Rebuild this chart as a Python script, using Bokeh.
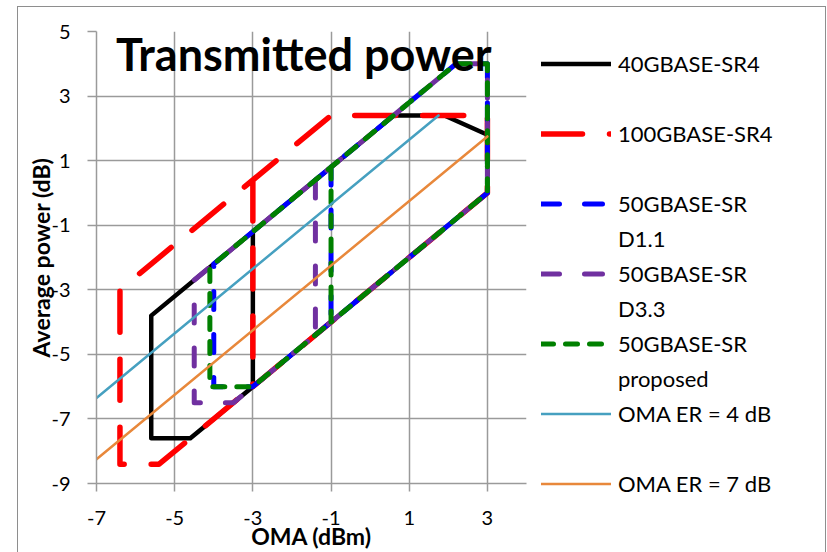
from bokeh.plotting import figure
from bokeh.models import (Legend, LegendItem, Label, FixedTicker, Range1d,
                          PrintfTickFormatter)
from bokeh.embed import file_html
from bokeh.resources import INLINE

# ---- data ----
x_ticks = [-7, -5, -3, -1, 1, 3]
y_ticks = [-9, -7, -5, -3, -1, 1, 3, 5]

sr4_40_oma = [-3, -3, 3, 3, 1.9, 0.6, -5.6, -5.6, -4.6, -3]
sr4_40_avg = [-1.2, -6, 0, 1.8, 2.4, 2.4, -3.8, -7.6, -7.6, -6]

sr4_100_oma = [-3, -3, 3, 3, -1, -6.4, -6.4, -5.4, -3]
sr4_100_avg = [0.4, -6, 0, 2.4, 2.4, -3.0, -8.4, -8.4, -6]

sr_d11_oma = [-1, -1, 3, 3, 2.2, -4, -4, -3, -1]
sr_d11_avg = [0.8, -4, 0, 4, 4, -2.2, -6, -6, -4]

sr_d33_oma = [-1.4, -1.4, 3, 3, 2.2, -4.5, -4.5, -3.5, -1.4]
sr_d33_avg = [0.4, -4.4, 0, 4, 4, -2.7, -6.5, -6.5, -4.4]

sr_prop_oma = [-1, -1, 3, 3, 2.2, -4.1, -4.1, -3, -1]
sr_prop_avg = [0.8, -4, 0, 4, 4, -2.3, -6, -6, -4]

er4_oma = [-7, 1.75]
er4_avg = [-6.35, 2.4]

er7_oma = [-7, 3]
er7_avg = [-8.25, 1.75]

GRID = "#9a9a9a"
FONT = "Lato"
BORDER = "#8e8e8e"

# chart-area border drawn as CSS background lines behind a transparent canvas margin
frame_styles = {
    "background-color": "white",
    "background-image": (f"linear-gradient({BORDER},{BORDER}), "
                         f"linear-gradient({BORDER},{BORDER}), "
                         f"linear-gradient({BORDER},{BORDER})"),
    "background-size": "1px 560px, 809px 1px, 1px 560px",
    "background-position": "17px 6px, 17px 6px, 825px 6px",
    "background-repeat": "no-repeat",
}

p = figure(frame_width=430, frame_height=452, output_backend="svg",
           toolbar_location=None,
           x_range=Range1d(-7, 4), y_range=Range1d(-9, 5),
           min_border_left=96, min_border_right=301, min_border_top=31,
           min_border_bottom=69, styles=frame_styles)
p.outline_line_color = None
p.background_fill_color = "white"
p.border_fill_alpha = 0

p.xaxis.ticker = FixedTicker(ticks=x_ticks)
p.yaxis.ticker = FixedTicker(ticks=y_ticks)
for g in (p.xgrid, p.ygrid):
    g.grid_line_color = GRID
    g.grid_line_width = 1.5

for ax in (p.xaxis, p.yaxis):
    ax.formatter = PrintfTickFormatter(format="%d")
    ax.axis_line_color = GRID
    ax.axis_line_width = 1.5
    ax.major_tick_line_color = GRID
    ax.major_tick_line_width = 1.5
    ax.major_tick_in = 0
    ax.minor_tick_out = 0
    ax.minor_tick_in = 0
    ax.major_label_text_font = FONT
    ax.major_label_text_font_size = "20px"
    ax.major_label_text_color = "black"
    ax.axis_label_text_font = FONT
    ax.axis_label_text_font_style = "bold"
    ax.axis_label_text_font_size = "23px"
    ax.axis_label_text_color = "black"

p.xaxis.major_tick_out = 8
p.xaxis.major_label_standoff = 19
p.xaxis.axis_label = "OMA (dBm)"
p.xaxis.axis_label_standoff = -6

p.yaxis.major_tick_out = 9
p.yaxis.major_label_standoff = 17
p.yaxis.axis_label = "Average power (dB)"
p.yaxis.axis_label_standoff = -7

common = dict(line_join="round", line_cap="round")
r_black = p.line(sr4_40_oma, sr4_40_avg, line_color="black", line_width=4.5, **common)
r_red = p.line(sr4_100_oma, sr4_100_avg, line_color="#ff0000", line_width=5.5,
               line_dash="41 27", **common)
r_blue = p.line(sr_d11_oma, sr_d11_avg, line_color="#0000ff", line_width=5,
                line_dash="18 25", **common)
r_purple = p.line(sr_d33_oma, sr_d33_avg, line_color="#7030a0", line_width=5,
                  line_dash="18 25", **common)
r_green = p.line(sr_prop_oma, sr_prop_avg, line_color="#008000", line_width=5,
                 line_dash="12 12", **common)
r_cyan = p.line(er4_oma, er4_avg, line_color="#46a0c0", line_width=2.5, **common)
r_orange = p.line(er7_oma, er7_avg, line_color="#e8883b", line_width=2.5, **common)
r_blank = p.line([], [], line_alpha=0)

items = [
    LegendItem(label="40GBASE-SR4", renderers=[r_black]),
    LegendItem(label=" ", renderers=[r_blank]),
    LegendItem(label="100GBASE-SR4", renderers=[r_red]),
    LegendItem(label=" ", renderers=[r_blank]),
    LegendItem(label="50GBASE-SR", renderers=[r_blue]),
    LegendItem(label="D1.1", renderers=[r_blank]),
    LegendItem(label="50GBASE-SR", renderers=[r_purple]),
    LegendItem(label="D3.3", renderers=[r_blank]),
    LegendItem(label="50GBASE-SR", renderers=[r_green]),
    LegendItem(label="proposed", renderers=[r_blank]),
    LegendItem(label="OMA ER = 4 dB", renderers=[r_cyan]),
    LegendItem(label=" ", renderers=[r_blank]),
    LegendItem(label="OMA ER = 7 dB", renderers=[r_orange]),
]
legend = Legend(items=items, location="top_left", orientation="vertical",
                glyph_width=70, glyph_height=35, label_height=35, spacing=0,
                padding=0, margin=15, label_standoff=7,
                border_line_color=None, background_fill_alpha=0,
                label_text_font=FONT, label_text_font_size="22px",
                label_text_color="black")
p.add_layout(legend, "right")

title = Label(x=-1.7, y=4.29, text="Transmitted power", text_font=FONT,
              text_font_style="bold", text_font_size="45px", text_color="black",
              text_align="center", text_baseline="alphabetic")
p.add_layout(title)

open("out.html", "w").write(file_html(p, INLINE))
